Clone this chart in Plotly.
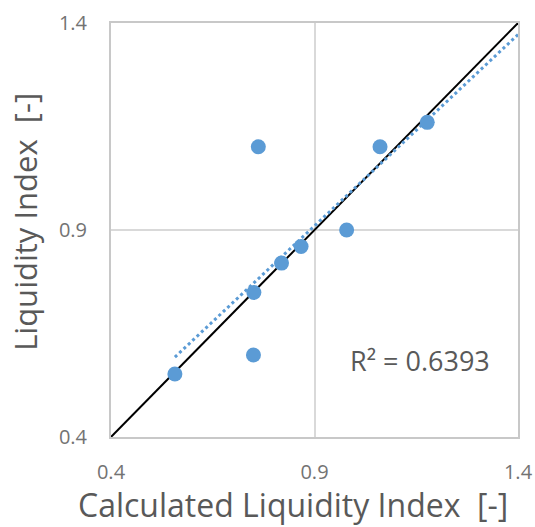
import numpy as np
import plotly.graph_objects as go

# Measured vs calculated liquidity index
calc_li = [0.762, 1.061, 0.979, 0.867, 0.819, 0.751, 0.750, 0.557, 1.177]
meas_li = [1.101, 1.101, 0.900, 0.860, 0.820, 0.749, 0.598, 0.552, 1.160]
axis_ticks = [0.4, 0.9, 1.4]
r2_label = "R² = 0.6393"
x_title = "Calculated Liquidity Index&nbsp; [-]"
y_title = "Liquidity Index&nbsp; [-]"

blue = "#5B9BD5"
title_grey = "#595959"
tick_grey = "#737373"
font_family = "Open Sans"

# Linear trendline (least squares), extended forward to the axis end
slope, intercept = np.polyfit(calc_li, meas_li, 1)
trend_x = [min(calc_li), axis_ticks[-1]]
trend_y = [slope * v + intercept for v in trend_x]

fig = go.Figure()

# 1:1 reference line
fig.add_trace(go.Scatter(
    x=[axis_ticks[0], axis_ticks[-1]], y=[axis_ticks[0], axis_ticks[-1]],
    mode="lines", line=dict(color="black", width=2), hoverinfo="skip",
))

fig.add_trace(go.Scatter(
    x=trend_x, y=trend_y, mode="lines",
    line=dict(color=blue, width=3, dash="dot"), hoverinfo="skip",
))

fig.add_trace(go.Scatter(
    x=calc_li, y=meas_li, mode="markers",
    marker=dict(color=blue, size=15),
))

axis_common = dict(
    range=[axis_ticks[0], axis_ticks[-1]],
    tickvals=axis_ticks,
    ticktext=[f"{v:.1f}" for v in axis_ticks],
    showgrid=True, gridcolor="#d9d9d9", gridwidth=1.5,
    zeroline=False,
    showline=True, linecolor="#c8c8c8", linewidth=2, mirror=True,
    ticks="", tickfont=dict(family=font_family, size=20, color=tick_grey),
    automargin=False,
)

fig.update_xaxes(**axis_common, ticklabelstandoff=16)
fig.update_yaxes(**axis_common, ticklabelstandoff=18)

fig.add_annotation(
    xref="paper", yref="paper", x=0.447, y=-0.162, text=x_title,
    showarrow=False, xanchor="center", yanchor="middle",
    font=dict(family=font_family, size=32, color=title_grey),
)
fig.add_annotation(
    xref="paper", yref="paper", x=-0.212, y=0.519, text=y_title,
    showarrow=False, xanchor="center", yanchor="middle", textangle=-90,
    font=dict(family=font_family, size=31, color=title_grey),
)

fig.add_annotation(
    x=1.16, y=0.584, xref="x", yref="y", text=r2_label, showarrow=False,
    font=dict(family=font_family, size=27, color=title_grey),
)

fig.update_layout(
    width=535, height=527,
    margin=dict(l=111, r=17, t=23, b=90),
    plot_bgcolor="white", paper_bgcolor="white",
    showlegend=False,
)

fig.write_html("out.html")
